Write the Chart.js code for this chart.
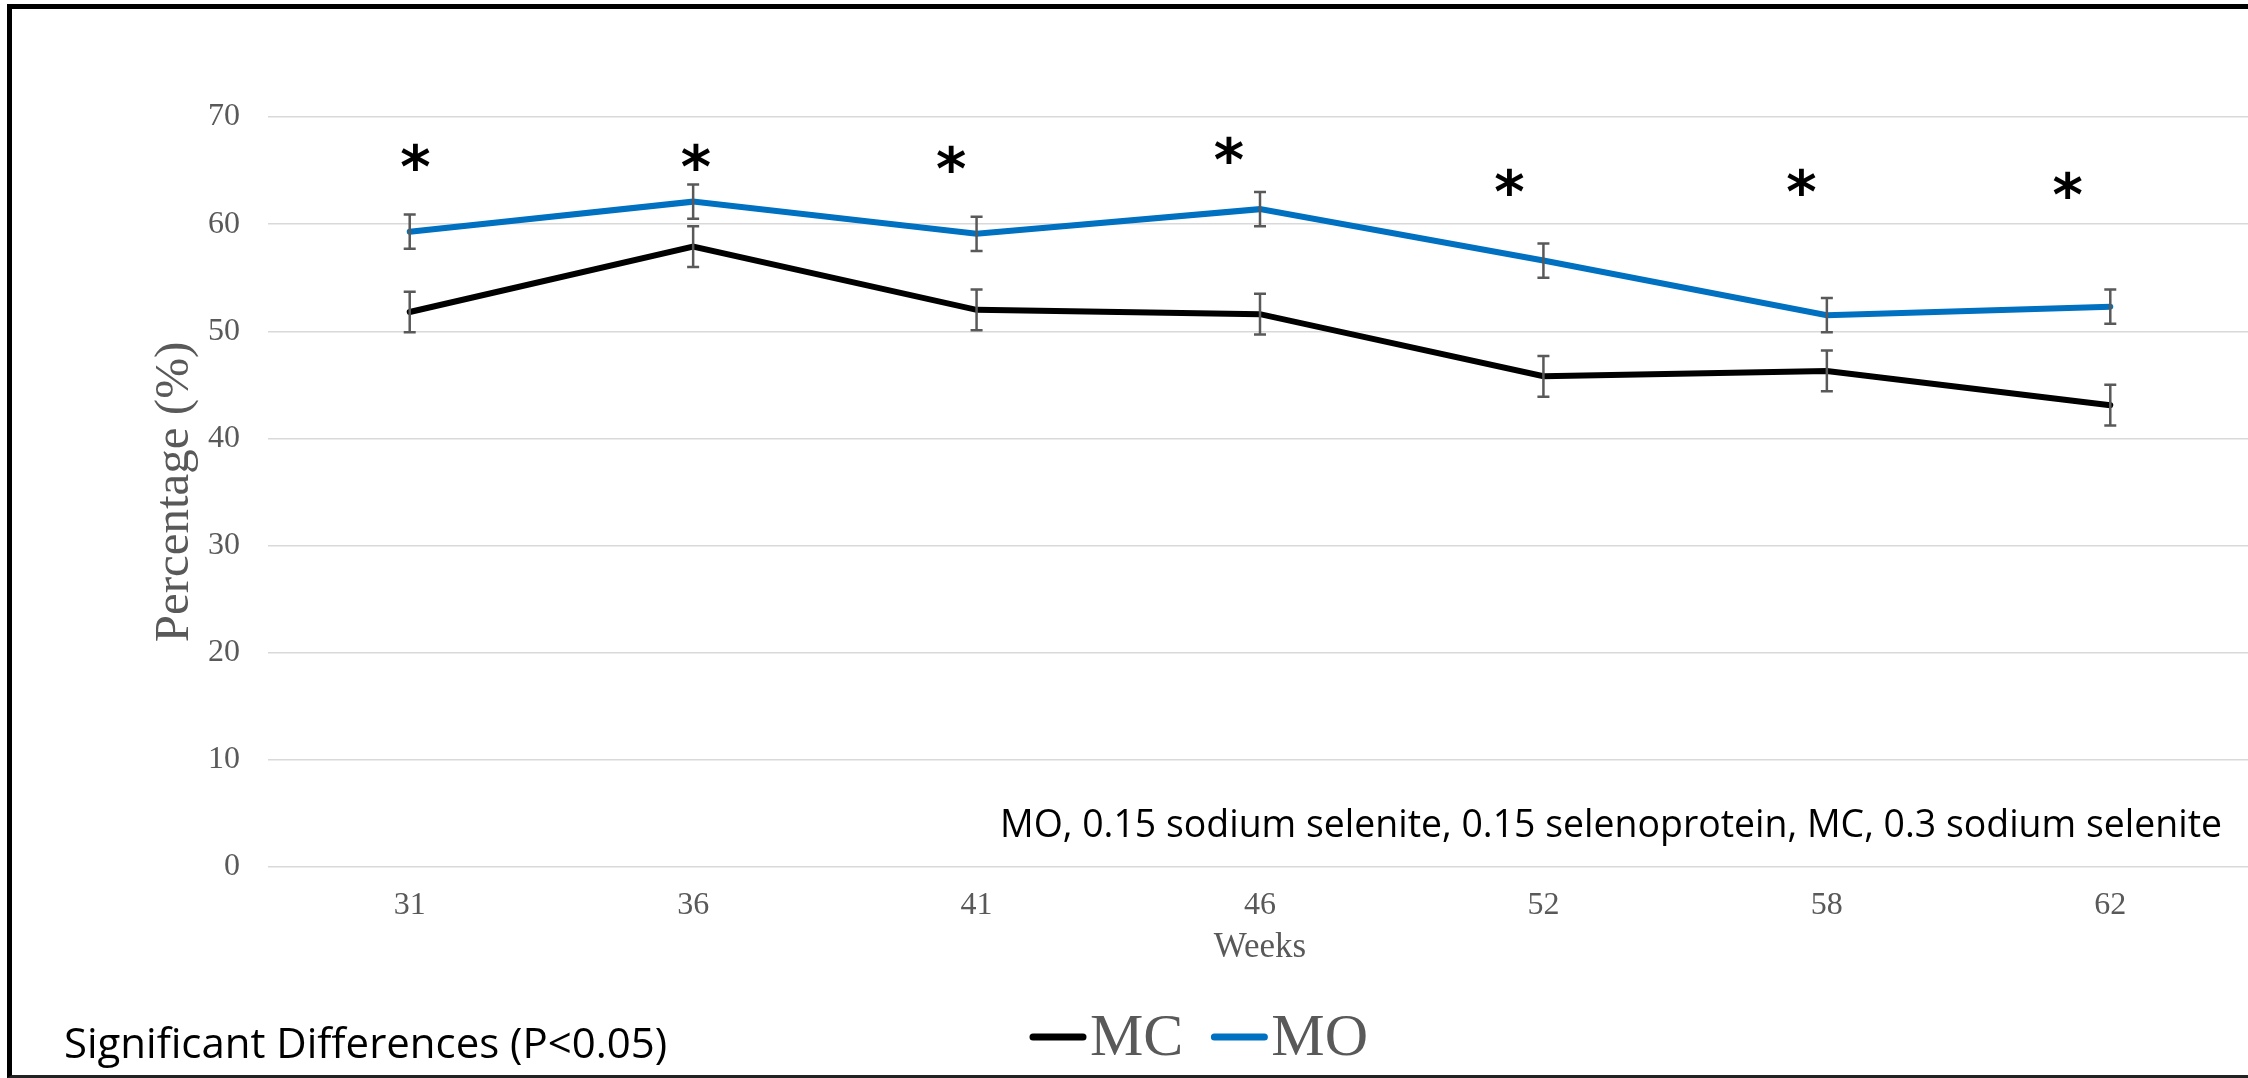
<!DOCTYPE html>
<html>
<head>
<meta charset="utf-8">
<script src="https://cdn.jsdelivr.net/npm/chart.js@4.4.1/dist/chart.umd.min.js"></script>
<style>
  html, body { margin: 0; padding: 0; background: #fff; overflow: hidden; }
  #wrap { position: absolute; left: 0; top: 0; width: 2252px; height: 1078px; }
  #frame { position: absolute; left: 7px; top: 4px; width: 2300px; height: 1066px;
           border-top: 5px solid #000; border-left: 5px solid #000; border-bottom: 3px solid #222; }
</style>
</head>
<body>
<div id="wrap">
  <canvas id="chart" width="2252" height="1078"></canvas>
  <div id="frame"></div>
</div>
<script>
// weeks of age on the x axis
var weeks = ["31", "36", "41", "46", "52", "58", "62"];

// percentages
var mcValues = [51.8, 57.9, 52.0, 51.6, 45.8, 46.3, 43.1];
var moValues = [59.3, 62.1, 59.1, 61.4, 56.6, 51.5, 52.3];

// error bar half lengths
var mcError = [1.9, 1.9, 1.9, 1.9, 1.9, 1.9, 1.9];
var moError = [1.6, 1.6, 1.6, 1.6, 1.6, 1.6, 1.6];

// "*" markers: level on the y axis and position in week-index units
var starLevels = [66.3, 66.3, 66.1, 66.9, 63.9, 63.9, 63.7];
var starPositions = [0.02, 1.01, 1.91, 2.89, 3.88, 4.91, 5.85];

var yMin = 0, yMax = 70, yStep = 10;

var noteText = "MO, 0.15 sodium selenite, 0.15 selenoprotein, MC, 0.3 sodium selenite";
var footText = "Significant Differences (P<0.05)";

var grey = "#595959";

var starPoints = [];
for (var i = 0; i < starLevels.length; i++) {
    starPoints.push({x: starPositions[i], y: starLevels[i]});
}

// error bars, stars, legend and the two notes
var extras = {
    id: "extras",
    afterDatasetsDraw: function(chart) {
        var ctx = chart.ctx;
        var yScale = chart.scales.y;
        ctx.save();
        chart.data.datasets.forEach(function(ds, di) {
            if (!ds.errors) return;
            var meta = chart.getDatasetMeta(di);
            ctx.strokeStyle = grey;
            ctx.lineWidth = 2.5;
            meta.data.forEach(function(pt, j) {
                var v = ds.data[j], e = ds.errors[j];
                var yTop = yScale.getPixelForValue(v + e);
                var yBot = yScale.getPixelForValue(v - e);
                ctx.beginPath();
                ctx.moveTo(pt.x, yTop); ctx.lineTo(pt.x, yBot);
                ctx.moveTo(pt.x - 6, yTop); ctx.lineTo(pt.x + 6, yTop);
                ctx.moveTo(pt.x - 6, yBot); ctx.lineTo(pt.x + 6, yBot);
                ctx.stroke();
            });
        });

        // stars
        chart.data.datasets.forEach(function(ds, di) {
            if (!ds.isStars) return;
            var meta = chart.getDatasetMeta(di);
            ctx.fillStyle = "#000";
            ctx.font = "bold 58px 'DejaVu Sans'";
            ctx.textAlign = "center";
            ctx.textBaseline = "alphabetic";
            meta.data.forEach(function(pt) {
                var m = ctx.measureText("*");
                var shift = (m.actualBoundingBoxAscent - m.actualBoundingBoxDescent) / 2;
                ctx.fillText("*", pt.x, pt.y + shift);
            });
        });
        ctx.restore();
    },
    afterDraw: function(chart) {
        var ctx = chart.ctx;
        ctx.save();

        // legend
        var x = 1030, yLine = 1037;
        ctx.font = "60px 'Liberation Serif'";
        ctx.textBaseline = "alphabetic";
        ctx.textAlign = "left";
        chart.data.datasets.forEach(function(ds) {
            if (ds.isStars) return;
            ctx.strokeStyle = ds.borderColor;
            ctx.lineWidth = 7;
            ctx.lineCap = "round";
            ctx.beginPath();
            ctx.moveTo(x + 3, yLine); ctx.lineTo(x + 53, yLine);
            ctx.stroke();
            x += 60;
            ctx.fillStyle = grey;
            ctx.fillText(ds.label, x, 1055);
            x += ctx.measureText(ds.label).width + 28;
        });

        // notes
        ctx.fillStyle = "#000";
        ctx.font = "37.5px 'Open Sans'";
        ctx.fillText(noteText, 1000, 837, 1222);
        ctx.font = "42px 'Open Sans'";
        ctx.fillText(footText, 64, 1058, 603);
        ctx.restore();
    }
};

var ctx = document.getElementById("chart").getContext("2d");

var chart = new Chart(ctx, {
    type: "line",
    data: {
        labels: weeks,
        datasets: [
            {
                label: "MC",
                data: mcValues,
                errors: mcError,
                borderColor: "#000000",
                backgroundColor: "#000000",
                borderWidth: 6,
                pointRadius: 0,
                tension: 0,
                borderCapStyle: "round"
            },
            {
                label: "MO",
                data: moValues,
                errors: moError,
                borderColor: "#0070C0",
                backgroundColor: "#0070C0",
                borderWidth: 6,
                pointRadius: 0,
                tension: 0,
                borderCapStyle: "round"
            },
            {
                label: "stars",
                isStars: true,
                data: starPoints,
                xAxisID: "xs",
                showLine: false,
                pointRadius: 0
            }
        ]
    },
    options: {
        responsive: false,
        animation: false,
        devicePixelRatio: 1,
        layout: { padding: { left: 126, right: 0, top: 117, bottom: 109 } },
        plugins: {
            legend: { display: false },
            tooltip: { enabled: false }
        },
        scales: {
            x: {
                type: "category",
                offset: true,
                grid: { display: false, drawTicks: false },
                border: { display: false },
                ticks: {
                    color: grey,
                    font: { family: "Liberation Serif", size: 32 },
                    padding: 19
                },
                title: {
                    display: true,
                    text: "Weeks",
                    color: grey,
                    font: { family: "Liberation Serif", size: 35 },
                    padding: { top: 0, bottom: 0 }
                },
                afterFit: function(s) { s.height = 102; }
            },
            xs: {
                type: "linear",
                display: false,
                min: -0.5,
                max: weeks.length - 0.5
            },
            y: {
                min: yMin,
                max: yMax,
                grid: { color: "#d9d9d9", lineWidth: 1.5, drawTicks: false },
                border: { display: false },
                ticks: {
                    stepSize: yStep,
                    color: grey,
                    font: { family: "Liberation Serif", size: 32 },
                    padding: 28
                },
                title: {
                    display: true,
                    text: "Percentage (%)",
                    color: grey,
                    font: { family: "Liberation Serif", size: 49 },
                    padding: { top: 20, bottom: 0 }
                },
                afterFit: function(s) { s.width = 142; }
            }
        }
    },
    plugins: [extras]
});
</script>
</body>
</html>
